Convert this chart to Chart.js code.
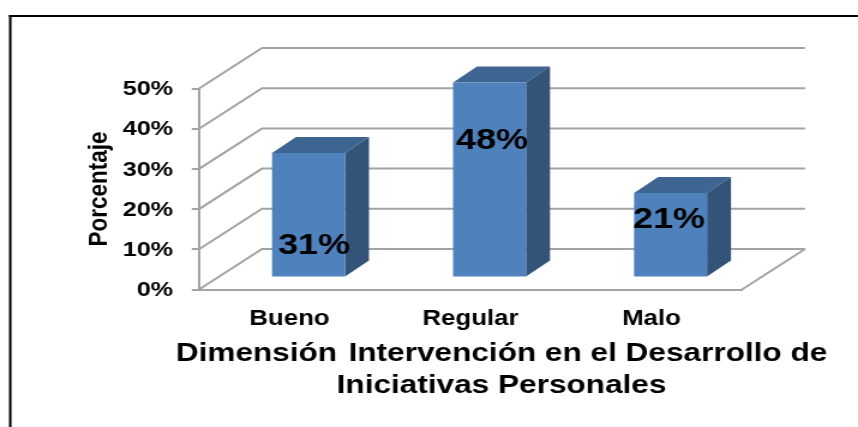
<!DOCTYPE html>
<html>
<head>
<meta charset="utf-8">
<title>Dimensión Intervención</title>
<script src="https://cdn.jsdelivr.net/npm/chart.js@4"></script>
<style>
  html, body { margin: 0; background: #fff; overflow: hidden; }
  /* the reference is a soft picture stretched sideways, so the canvas is too */
  #grafico { display: block; transform: scaleX(1.2); transform-origin: 0 0; filter: blur(0.4px); }
</style>
</head>
<body>
<canvas id="grafico" width="715" height="427"></canvas>
<script>
const categorias = ['Bueno', 'Regular', 'Malo'];
const porcentajes = [31, 48.5, 21];
const etiquetas = ['31%', '48%', '21%'];
const tituloX = ['Dimensión \u200AIntervención en el Desarrollo de', 'Iniciativas Personales'];

const FUENTE = '"Liberation Sans", Arial, sans-serif';
const GRIS = '#a3a3a3';
const SX = 1.2;

// depth of the 3d box, and where the bars sit inside it
const fondo = { x: 63 / SX, y: -40.5 };
const barraDesp = { x: 19 / SX, y: -12 };
const barraFondo = { x: 24 / SX, y: -16 };
// labels were moved by hand in the original: shift from bar centre / bar top
const etiquetaDesp = [[5.5, 92.5], [2.5, 58], [-1.5, 27]];

const caja3d = {
  id: 'caja3d',
  beforeDraw(chart) {
    const ctx = chart.ctx;
    ctx.save();
    ctx.fillStyle = '#000';
    ctx.fillRect(9 / SX, 15, chart.width, 2);
    ctx.fillRect(9 / SX, 15, 2.5 / SX, chart.height);
    ctx.restore();
  },
  beforeDatasetsDraw(chart) {
    const { ctx, chartArea: a, scales } = chart;
    ctx.save();
    ctx.strokeStyle = GRIS;
    ctx.lineWidth = 2;
    scales.y.ticks.forEach(t => {
      const y = scales.y.getPixelForValue(t.value);
      ctx.beginPath();
      ctx.moveTo(a.left, y);
      ctx.lineTo(a.left + fondo.x, y + fondo.y);
      ctx.lineTo(a.right + fondo.x, y + fondo.y);
      ctx.stroke();
    });
    // right edge of the floor
    ctx.beginPath();
    ctx.moveTo(a.right, a.bottom);
    ctx.lineTo(a.right + fondo.x, a.bottom + fondo.y);
    ctx.stroke();
    ctx.restore();
  },
  beforeDatasetDraw(chart) {
    const ctx = chart.ctx;
    ctx.save();
    ctx.translate(barraDesp.x, barraDesp.y);
    chart.getDatasetMeta(0).data.forEach(b => {
      const izq = b.x - b.width / 2, der = b.x + b.width / 2;
      ctx.fillStyle = '#3e6491';
      ctx.beginPath();
      ctx.moveTo(izq, b.y);
      ctx.lineTo(izq + barraFondo.x, b.y + barraFondo.y);
      ctx.lineTo(der + barraFondo.x, b.y + barraFondo.y);
      ctx.lineTo(der, b.y);
      ctx.closePath();
      ctx.fill();
      ctx.fillStyle = '#335379';
      ctx.beginPath();
      ctx.moveTo(der, b.y);
      ctx.lineTo(der + barraFondo.x, b.y + barraFondo.y);
      ctx.lineTo(der + barraFondo.x, b.base + barraFondo.y);
      ctx.lineTo(der, b.base);
      ctx.closePath();
      ctx.fill();
    });
  },
  afterDatasetDraw(chart) {
    chart.ctx.restore();
  },
  afterDatasetsDraw(chart) {
    const ctx = chart.ctx;
    ctx.save();
    ctx.fillStyle = '#000';
    ctx.textAlign = 'center';
    ctx.textBaseline = 'middle';
    ctx.font = 'bold 30px ' + FUENTE;
    chart.getDatasetMeta(0).data.forEach((b, i) => {
      ctx.fillText(etiquetas[i], b.x + barraDesp.x + etiquetaDesp[i][0] / SX, b.y + barraDesp.y + etiquetaDesp[i][1]);
    });
    ctx.font = 'bold 26.3px ' + FUENTE;
    tituloX.forEach((linea, i) => ctx.fillText(linea, 501.5 / SX, 354 + i * 32));
    ctx.restore();
  }
};

new Chart(document.getElementById('grafico').getContext('2d'), {
  type: 'bar',
  data: {
    labels: categorias,
    datasets: [{
      data: porcentajes,
      backgroundColor: '#4f81bd',
      barPercentage: 0.403,
      categoryPercentage: 1
    }]
  },
  options: {
    responsive: false,
    animation: false,
    layout: { padding: { top: 88.5, right: 715 - 742 / SX, left: 0, bottom: 0 } },
    plugins: { legend: { display: false }, tooltip: { enabled: false } },
    scales: {
      x: {
        afterFit(s) { s.height = 137.5; },
        grid: { display: false },
        border: { display: true, color: GRIS, width: 2 },
        ticks: { color: '#000', padding: 9, maxRotation: 0, font: { family: FUENTE, weight: 'bold', size: 21.5 } }
      },
      y: {
        min: 0,
        max: 50,
        afterFit(s) { s.width = 199 / SX; },
        grid: { drawOnChartArea: false, color: GRIS, lineWidth: 2, tickLength: 6 },
        border: { display: true, color: GRIS, width: 2 },
        ticks: {
          stepSize: 10,
          color: '#000',
          padding: 15.6,
          labelOffset: 1,
          font: { family: FUENTE, weight: 'bold', size: 21 },
          callback: v => v + '%'
        },
        title: {
          display: true,
          text: 'Porcentaje',
          color: '#000',
          padding: { top: 69, bottom: 0 },
          font: { family: FUENTE, weight: 'bold', size: 22.5 }
        }
      }
    }
  },
  plugins: [caja3d]
});
</script>
</body>
</html>
